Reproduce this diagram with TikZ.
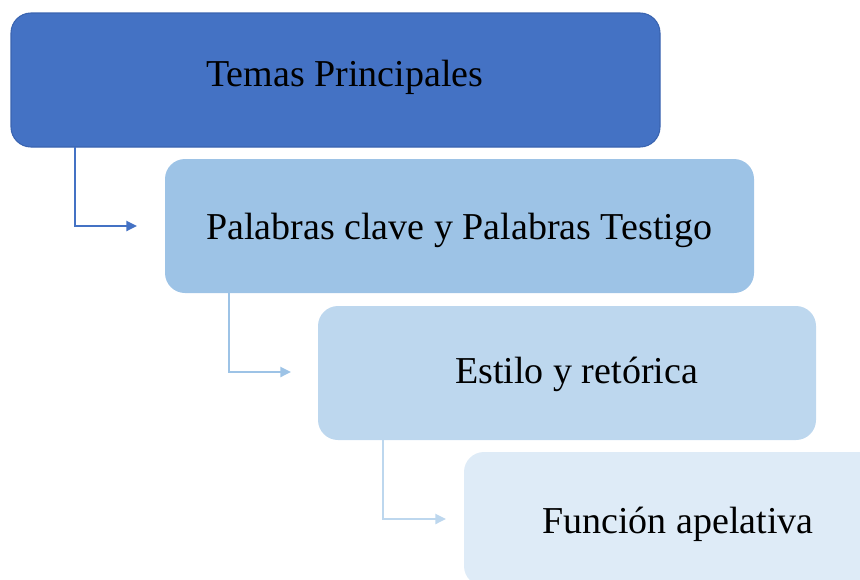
\documentclass[tikz,border=0pt]{standalone}
\usepackage{fontspec}
\setmainfont{Liberation Serif}
\usetikzlibrary{arrows.meta}
\definecolor{cA}{HTML}{4472C4}
\definecolor{cAb}{HTML}{3A64B0}
\definecolor{cB}{HTML}{9DC3E6}
\definecolor{cC}{HTML}{BDD7EE}
\definecolor{cD}{HTML}{DEEBF7}
\tikzset{
  boxshape/.style={rectangle, rounded corners=15pt, anchor=north west, inner sep=0pt, outer sep=0pt, minimum height=100.5pt},
  lbl/.style={anchor=base west, inner sep=0pt, font=\fontsize{28.5}{32}\selectfont, text=black},
  conn/.style={line width=1.7pt, -{Triangle[length=8pt,width=7.5pt]}}
}
\begin{document}
\begin{tikzpicture}[x=0.75pt,y=-0.75pt]
\useasboundingbox (0,0) rectangle (860,579);
\clip (0,0) rectangle (860,579);
\node[boxshape, fill=cA, draw=cAb, line width=0.8pt, minimum width=486.75pt] (b1) at (11,13) {};
\node[boxshape, fill=cB, minimum width=441.75pt] (b2) at (165,159) {};
\node[boxshape, fill=cC, minimum width=373.5pt] (b3) at (318,306) {};
\node[boxshape, fill=cD, minimum width=312pt] (b4) at (464,452) {};
\node[lbl] (t1) at (206,86) {Temas Principales};
\node[lbl] (t2) at (206,239) {Palabras clave y Palabras Testigo};
\node[lbl] (t3) at (455,383) {Estilo y retórica};
\node[lbl] (t4) at (542,533) {Función apelativa};
\coordinate (s1) at (75,0);
\coordinate (s2) at (229,0);
\coordinate (s3) at (383,0);
\coordinate (e1) at (137,226);
\coordinate (e2) at (291,372);
\coordinate (e3) at (446,519);
\draw[conn, cA] (b1.south -| s1) |- (e1);
\draw[conn, cB] (b2.south -| s2) |- (e2);
\draw[conn, cC] (b3.south -| s3) |- (e3);
\end{tikzpicture}
\end{document}
